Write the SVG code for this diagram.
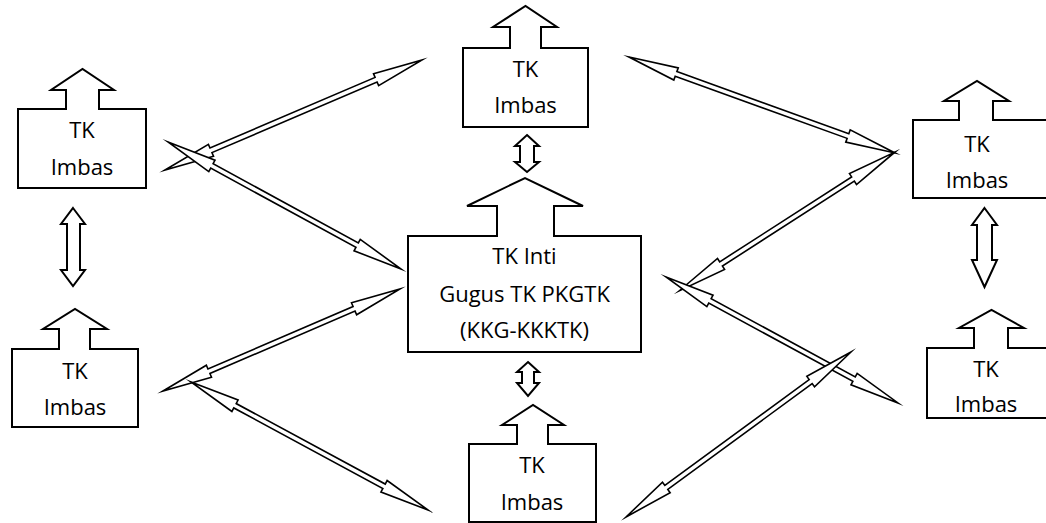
<svg xmlns="http://www.w3.org/2000/svg" width="1046" height="523" viewBox="0 0 1046 523">
  <style>
    .shape { fill: #ffffff; stroke: #000000; stroke-width: 2; stroke-linejoin: miter; }
    .conn { fill: #ffffff; stroke: #000000; stroke-width: 1.6; stroke-linejoin: miter; stroke-miterlimit: 20; }
    .lbl { font-family: "Open Sans", "Liberation Sans", sans-serif; font-size: 22px; fill: #000000; text-anchor: middle; }
  </style>
  <rect width="1046" height="523" fill="#ffffff"/>

  <!-- connectors between the schools: thin double-headed arrows, drawn along x then rotated -->
  <g id="connectors">
    <path class="conn" transform="translate(165,170) rotate(-23.17)" d="M0,0 L50,-6.5 L50,-2.5 L229.6,-2.5 L229.6,-6.5 L279.6,0 L229.6,6.5 L229.6,2.5 L50,2.5 L50,6.5 Z"/>
    <path class="conn" transform="translate(168,142) rotate(28.59)" d="M0,0 L50,-6.5 L50,-2.5 L215.4,-2.5 L215.4,-6.5 L265.4,0 L215.4,6.5 L215.4,2.5 L50,2.5 L50,6.5 Z"/>
    <path class="conn" transform="translate(629,57) rotate(19.84)" d="M0,0 L50,-6.5 L50,-2.5 L232.8,-2.5 L232.8,-6.5 L282.8,0 L232.8,6.5 L232.8,2.5 L50,2.5 L50,6.5 Z"/>
    <path class="conn" transform="translate(679,291) rotate(-32.76)" d="M0,0 L50,-6.5 L50,-2.5 L206.9,-2.5 L206.9,-6.5 L256.9,0 L206.9,6.5 L206.9,2.5 L50,2.5 L50,6.5 Z"/>
    <path class="conn" transform="translate(666,277) rotate(28.50)" d="M0,0 L50,-6.5 L50,-2.5 L214,-2.5 L214,-6.5 L264,0 L214,6.5 L214,2.5 L50,2.5 L50,6.5 Z"/>
    <path class="conn" transform="translate(626,517) rotate(-36.25)" d="M0,0 L50,-6.5 L50,-2.5 L229,-2.5 L229,-6.5 L279,0 L229,6.5 L229,2.5 L50,2.5 L50,6.5 Z"/>
    <path class="conn" transform="translate(163,391) rotate(-23.28)" d="M0,0 L50,-6.5 L50,-2.5 L208,-2.5 L208,-6.5 L258,0 L208,6.5 L208,2.5 L50,2.5 L50,6.5 Z"/>
    <path class="conn" transform="translate(191,382) rotate(28.37)" d="M0,0 L50,-6.5 L50,-2.5 L219.4,-2.5 L219.4,-6.5 L269.4,0 L219.4,6.5 L219.4,2.5 L50,2.5 L50,6.5 Z"/>

    <!-- short vertical double arrows -->
    <path class="shape" d="M73,208 L85,224 L80,224 L80,270 L85,270 L73,286 L61,270 L67,270 L67,224 L61,224 Z"/>
    <path class="shape" d="M984.5,208 L997,225 L992,225 L992,260 L997,260 L984.5,287 L972,260 L977,260 L977,225 L972,225 Z"/>
    <path class="shape" d="M527,135 L539,146 L534,146 L534,162 L539,162 L527,172 L515,162 L520,162 L520,146 L515,146 Z"/>
    <path class="shape" d="M528,362 L539,372 L534,372 L534,383 L539,383 L528,396 L517,383 L522,383 L522,372 L517,372 Z"/>
  </g>

  <!-- TK Imbas, upper left -->
  <g id="imbas-left-top">
    <path class="shape" d="M18,109 L66,109 L66,90 L51,90 L82.5,69 L114,90 L99,90 L99,109 L146,109 L146,188 L18,188 Z"/>
    <text class="lbl" x="82" y="138">TK</text>
    <text class="lbl" x="82" y="175">Imbas</text>
  </g>

  <!-- TK Imbas, lower left -->
  <g id="imbas-left-bottom">
    <path class="shape" d="M12,349 L59,349 L59,329 L43,329 L75,309 L107,329 L90,329 L90,349 L138,349 L138,427 L12,427 Z"/>
    <text class="lbl" x="75" y="379">TK</text>
    <text class="lbl" x="75" y="415">Imbas</text>
  </g>

  <!-- TK Imbas, top -->
  <g id="imbas-top">
    <path class="shape" d="M463,48 L510,48 L510,27 L493,27 L525.5,6 L557,27 L541,27 L541,48 L588,48 L588,127 L463,127 Z"/>
    <text class="lbl" x="525.5" y="77">TK</text>
    <text class="lbl" x="525.5" y="113">Imbas</text>
  </g>

  <!-- TK Inti, centre -->
  <g id="inti">
    <path class="shape" d="M408,236 L497,236 L497,206 L467,206 L525,178 L583,206 L554,206 L554,236 L641,236 L641,352 L408,352 Z"/>
    <text class="lbl" x="524.5" y="264">TK Inti</text>
    <text class="lbl" x="524.5" y="302">Gugus TK PKGTK</text>
    <text class="lbl" x="524.5" y="338">(KKG-KKKTK)</text>
  </g>

  <!-- TK Imbas, upper right -->
  <g id="imbas-right-top">
    <path class="shape" d="M913,120 L959,120 L959,101 L944,101 L977,81 L1009,101 L993,101 L993,120 L1048,120 L1048,198 L913,198 Z"/>
    <text class="lbl" x="977" y="152">TK</text>
    <text class="lbl" x="977" y="188">Imbas</text>
  </g>

  <!-- TK Imbas, lower right -->
  <g id="imbas-right-bottom">
    <path class="shape" d="M927,348 L974,348 L974,328 L959,328 L991.5,310 L1024,328 L1008,328 L1008,348 L1056,348 L1056,418 L927,418 Z"/>
    <text class="lbl" x="986" y="377">TK</text>
    <text class="lbl" x="986" y="412">Imbas</text>
  </g>

  <!-- TK Imbas, bottom -->
  <g id="imbas-bottom">
    <path class="shape" d="M469,444 L517,444 L517,425 L502,425 L533,405 L564,425 L548,425 L548,444 L596,444 L596,522 L469,522 Z"/>
    <text class="lbl" x="532" y="473">TK</text>
    <text class="lbl" x="532" y="510">Imbas</text>
  </g>
</svg>
